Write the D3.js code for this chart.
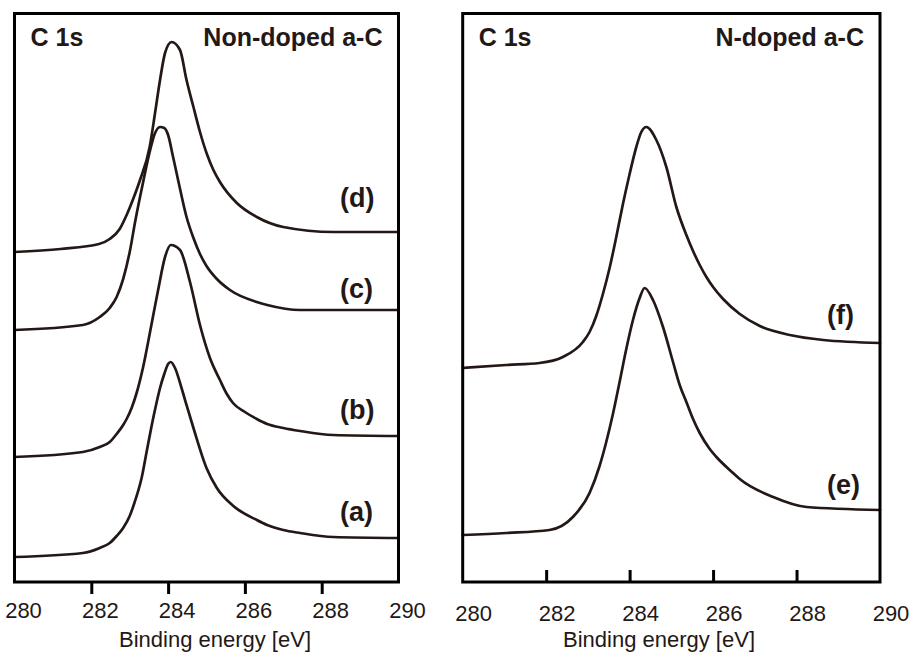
<!DOCTYPE html>
<html>
<head>
<meta charset="utf-8">
<script src="https://cdn.jsdelivr.net/npm/d3@7"></script>
<style>
  html, body { margin: 0; padding: 0; background: #fff; }
  svg { display: block; }
  text { font-family: "Liberation Sans", Arial, Helvetica, sans-serif; fill: #231815; }
</style>
</head>
<body>
<svg id="chart" width="911" height="658"></svg>
<script>
// ---------------- data (binding energy [eV], intensity [a.u.]) ----------------
const tickValues = [280, 282, 284, 286, 288, 290];
const xTitle = "Binding energy [eV]";
const panelLeftTitle = "Non-doped a-C";
const panelRightTitle = "N-doped a-C";
const coreLevel = "C 1s";

const specA = [[280.0,25],[281.78,29],[282.22,34],[282.48,39],[282.66,46],[282.83,54],[283.0,66],[283.13,80],[283.31,104],[283.44,130],[283.57,156],[283.68,176],[283.79,194],[283.9,208],[284.0,218],[284.07,220],[284.18,214],[284.35,194],[284.48,177],[284.66,154],[285.0,114],[285.27,94],[285.70,76],[286.31,62],[286.58,57],[287.0,52],[287.44,49],[288.3,45],[290.0,44]];
const specB = [[280.0,125],[281.78,130],[282.22,135],[282.48,140],[282.66,148],[282.83,157],[282.92,163],[283.05,174],[283.18,189],[283.35,215],[283.52,248],[283.74,292],[283.92,325],[284.07,337],[284.31,332],[284.57,300],[284.83,257],[285.09,224],[285.35,202],[285.53,188],[285.69,179],[286.0,170],[286.31,163],[286.58,158],[287.0,154],[287.44,151],[288.3,147],[290.0,146]];
const specC = [[280.0,252],[281.78,257],[282.22,265],[282.48,274],[282.66,285],[282.83,303],[283.0,330],[283.15,362],[283.35,400],[283.52,430],[283.65,448],[283.79,455],[283.9,454],[284.0,447],[284.13,425],[284.26,402],[284.48,365],[284.66,344],[284.83,328],[285.0,316],[285.27,303],[285.61,292],[286.31,280],[286.58,277],[287.44,272],[288.5,272],[290.0,272]];
const specD = [[280.0,330],[281.2,333],[282.2,338],[282.48,343],[282.74,353],[282.92,367],[283.1,384],[283.26,401],[283.52,435],[283.66,469],[283.79,502],[283.92,529],[284.09,540],[284.31,532],[284.48,502],[284.66,475],[284.83,450],[285.01,428],[285.18,412],[285.35,400],[285.79,379],[286.31,365],[287.0,355],[288.3,350],[290.0,350]];
const specE = [[280.0,47],[281.04,49],[282.08,52],[282.64,65],[283.04,89],[283.28,116],[283.44,140],[283.60,168],[283.76,200],[283.92,233],[284.08,262],[284.24,284],[284.36,294],[284.56,282],[284.80,255],[285.04,220],[285.20,197],[285.36,180],[285.52,163],[285.68,149],[285.92,133],[286.08,125],[286.48,109],[286.64,103],[287.44,85],[288.24,75],[290.0,72]];
const specF = [[280.0,214],[281.04,217],[281.84,219],[282.40,225],[282.88,240],[283.04,250],[283.20,266],[283.36,288],[283.52,314],[283.68,345],[283.84,378],[284.0,408],[284.16,435],[284.28,450],[284.40,455],[284.64,442],[284.88,415],[285.12,375],[285.36,347],[285.52,331],[285.68,317],[285.84,305],[286.0,295],[286.24,283],[286.64,268],[287.12,256],[287.84,247],[288.64,242],[290.0,239]];

const leftSeries = [
  {label: "(a)", values: specA},
  {label: "(b)", values: specB},
  {label: "(c)", values: specC},
  {label: "(d)", values: specD}
];
const rightSeries = [
  {label: "(e)", values: specE},
  {label: "(f)", values: specF}
];

// ---------------- layout ----------------
const INK = "#231815";
const svg = d3.select("#chart");
const y = d3.scaleLinear().domain([0, 568.5]).range([582, 13.5]);

const panels = [
  {x: d3.scaleLinear().domain([280, 290]).range([14.5, 398.5]), series: leftSeries, title: panelLeftTitle,
   tickOut: true, labelDx: 9, labelY: 618, titleX: 215, labelX: 340, seriesLabelY: [521, 419, 298, 207]},
  {x: d3.scaleLinear().domain([280, 290]).range([462.7, 880]), series: rightSeries, title: panelRightTitle,
   tickOut: false, labelDx: 11, labelY: 621, titleX: 659, labelX: 827, seriesLabelY: [494, 324]}
];

panels.forEach(p => {
  const g = svg.append("g");
  const x0 = p.x(280), x1 = p.x(290), y0 = y(568.5), y1 = y(0);

  // spectra
  const line = d3.line().x(d => p.x(d[0])).y(d => y(d[1])).curve(d3.curveMonotoneX);
  g.selectAll("path.spec").data(p.series).join("path")
    .attr("class", "spec")
    .attr("d", d => line(d.values))
    .attr("fill", "none").attr("stroke", INK)
    .attr("stroke-width", 2.7).attr("stroke-linejoin", "round").attr("stroke-linecap", "round");

  // frame
  g.append("rect").attr("x", x0).attr("y", y0).attr("width", x1 - x0).attr("height", y1 - y0)
    .attr("fill", "none").attr("stroke", "#000").attr("stroke-width", 3);

  // ticks
  const axis = d3.axisBottom(p.x).tickValues(tickValues.slice(1, -1)).tickFormat("")
    .tickSizeInner(p.tickOut ? 12 : -12).tickSizeOuter(0);
  const ag = g.append("g").attr("transform", `translate(0,${y1})`).call(axis);
  ag.select(".domain").remove();
  ag.selectAll(".tick line").attr("stroke", "#000").attr("stroke-width", 3);

  // tick labels
  g.selectAll("text.tl").data(tickValues).join("text")
    .attr("class", "tl")
    .attr("x", d => p.x(d) + p.labelDx).attr("y", p.labelY)
    .attr("text-anchor", "middle").attr("font-size", 22)
    .text(d => d);

  // axis title
  g.append("text").attr("x", p.titleX).attr("y", 647).attr("text-anchor", "middle")
    .attr("font-size", 22).text(xTitle);

  // header texts
  g.append("text").attr("x", x0 + 16).attr("y", 46).attr("font-size", 25).attr("font-weight", "bold").text(coreLevel);
  g.append("text").attr("x", x1 - 16).attr("y", 46).attr("text-anchor", "end")
    .attr("font-size", 25).attr("font-weight", "bold").text(p.title);

  // series labels
  g.selectAll("text.sl").data(p.series).join("text")
    .attr("class", "sl")
    .attr("x", p.labelX).attr("y", (d, i) => p.seriesLabelY[i])
    .attr("font-size", 27).attr("font-weight", "bold")
    .text(d => d.label);
});
</script>
</body>
</html>
